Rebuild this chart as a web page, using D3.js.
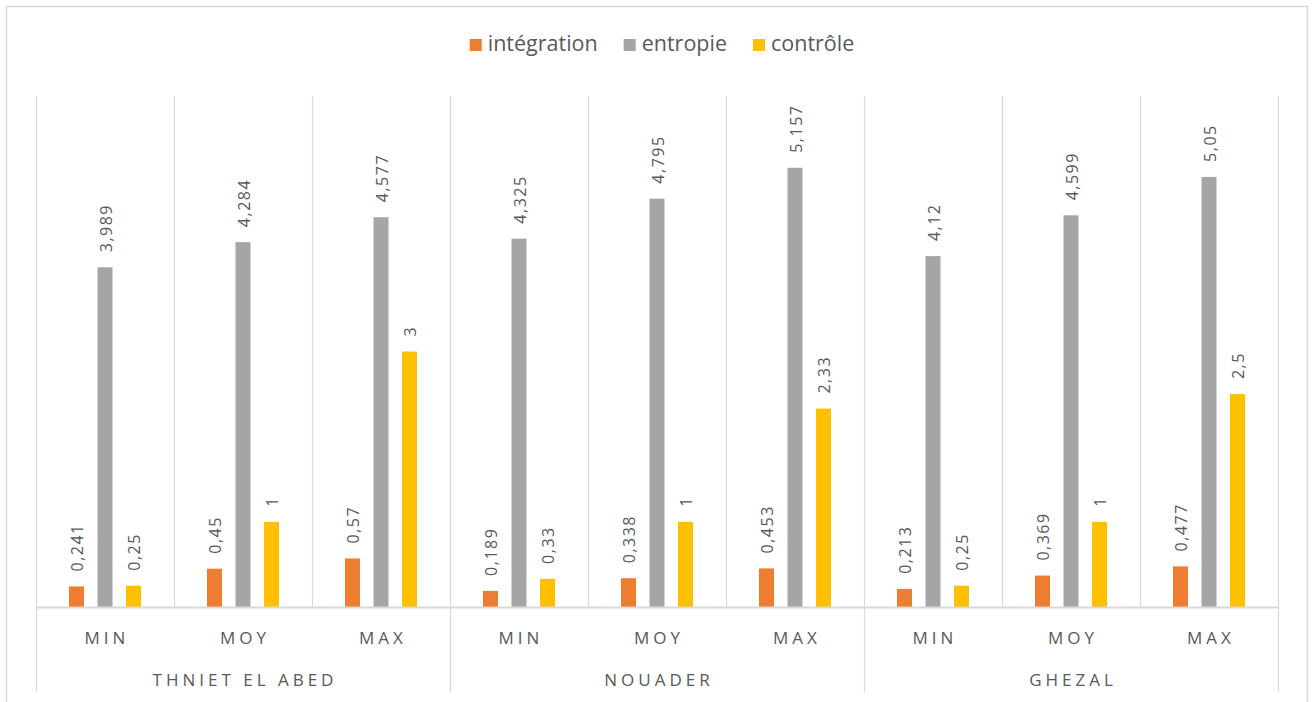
<!DOCTYPE html>
<html>
<head>
<meta charset="utf-8">
<script src="https://cdn.jsdelivr.net/npm/d3@7"></script>
<style>
  html, body { margin: 0; padding: 0; background: #fff; }
  svg { display: block; }
  text { font-family: "Open Sans", "DejaVu Sans", sans-serif; fill: #595959; }
</style>
</head>
<body>
<svg id="chart" width="1314" height="702"></svg>
<script>
// Sites and statistics on the two-level category axis
const groups = ["THNIET EL ABED", "NOUADER", "GHEZAL"];
const stats = ["MIN", "MOY", "MAX"];

// Series values, one per (site, statistic) pair in reading order
const seriesNames = ["intégration", "entropie", "contrôle"];
const integration = [0.241, 0.45, 0.57, 0.189, 0.338, 0.453, 0.213, 0.369, 0.477];
const entropie    = [3.989, 4.284, 4.577, 4.325, 4.795, 5.157, 4.12, 4.599, 5.05];
const controle    = [0.25, 1, 3, 0.33, 1, 2.33, 0.25, 1, 2.5];
const seriesColors = ["#ED7D31", "#A5A5A5", "#FFC000"];

const W = 1314, H = 702;
const margin = { left: 36, right: 36, top: 96, bottom: 95 };
const plotRight = W - margin.right;
const plotBottom = H - margin.bottom;

const svg = d3.select("#chart");

// Chart frame
svg.append("rect")
  .attr("x", 6.5).attr("y", 6.5)
  .attr("width", W - 13).attr("height", H + 20)
  .attr("fill", "#fff")
  .attr("stroke", "#d9d9d9").attr("stroke-width", 1.5);

// Flattened categories
const cats = [];
groups.forEach((g, gi) => stats.forEach((s, si) => cats.push({ id: gi * 3 + si, group: g, stat: s })));

const series = [integration, entropie, controle];

const x = d3.scaleBand()
  .domain(cats.map(c => c.id))
  .range([margin.left, plotRight])
  .paddingInner(0).paddingOuter(0);

const xInner = d3.scaleBand()
  .domain(seriesNames)
  .range([0, x.bandwidth()])
  .paddingInner(0.474)
  .paddingOuter(1.158);

const y = d3.scaleLinear().domain([0, 6]).range([plotBottom, margin.top]);

// Vertical separators between categories; site boundaries run through the label rows
const gridColor = "#d9d9d9";
const bounds = d3.range(cats.length + 1);
svg.append("g").selectAll("line")
  .data(bounds)
  .join("line")
  .attr("x1", i => (i < cats.length ? x(i) : plotRight) + 0.5)
  .attr("x2", i => (i < cats.length ? x(i) : plotRight) + 0.5)
  .attr("y1", margin.top)
  .attr("y2", i => (i % 3 === 0 ? 692 : plotBottom))
  .attr("stroke", gridColor)
  .attr("stroke-width", 1.2);

// Bars
const barData = [];
cats.forEach(c => seriesNames.forEach((s, si) => barData.push({ cat: c.id, s, si, v: series[si][c.id] })));

svg.append("g").selectAll("rect")
  .data(barData)
  .join("rect")
  .attr("x", d => x(d.cat) + xInner(d.s))
  .attr("width", xInner.bandwidth())
  .attr("y", d => y(d.v))
  .attr("height", d => y(0) - y(d.v))
  .attr("fill", d => seriesColors[d.si]);

// Baseline
svg.append("line")
  .attr("x1", margin.left).attr("x2", plotRight)
  .attr("y1", plotBottom + 0.5).attr("y2", plotBottom + 0.5)
  .attr("stroke", gridColor).attr("stroke-width", 2);

// Value labels, rotated, above each bar
const fmt = v => String(v).replace(".", ",");
svg.append("g").selectAll("text")
  .data(barData)
  .join("text")
  .attr("transform", d => {
    const cx = x(d.cat) + xInner(d.s) + xInner.bandwidth() / 2;
    return `translate(${cx + 6.5},${y(d.v) - 15}) rotate(-90)`;
  })
  .attr("text-anchor", "start")
  .style("font-size", "16px")
  .style("letter-spacing", "1.5px")
  .text(d => fmt(d.v));

// Statistic labels
const catLs = 4;
svg.append("g").selectAll("text")
  .data(cats)
  .join("text")
  .attr("x", d => x(d.id) + x.bandwidth() / 2 + catLs / 2)
  .attr("y", 644)
  .attr("text-anchor", "middle")
  .style("font-size", "17px")
  .style("letter-spacing", catLs + "px")
  .text(d => d.stat);

// Site labels
svg.append("g").selectAll("text")
  .data(groups)
  .join("text")
  .attr("x", (d, i) => (x(i * 3) + x(i * 3 + 2) + x.bandwidth()) / 2 + catLs / 2)
  .attr("y", 686)
  .attr("text-anchor", "middle")
  .style("font-size", "17px")
  .style("letter-spacing", catLs + "px")
  .text(d => d);

// Legend, centred above the plot
const legend = svg.append("g");
const items = legend.selectAll("g")
  .data(seriesNames)
  .join("g");
items.append("rect")
  .attr("width", 12).attr("height", 12)
  .attr("y", -12)
  .attr("fill", (d, i) => seriesColors[i]);
items.append("text")
  .attr("x", 18)
  .attr("y", 0)
  .style("font-size", "21.5px")
  .text(d => d);
let cursor = 0;
items.each(function () {
  const g = d3.select(this);
  const tw = g.select("text").node().getComputedTextLength();
  g.attr("transform", `translate(${cursor},0)`);
  cursor += 18 + tw + 26;
});
const legendWidth = cursor - 26;
legend.attr("transform", `translate(${(margin.left + plotRight) / 2 - legendWidth / 2 + 5},51)`);
</script>
</body>
</html>
